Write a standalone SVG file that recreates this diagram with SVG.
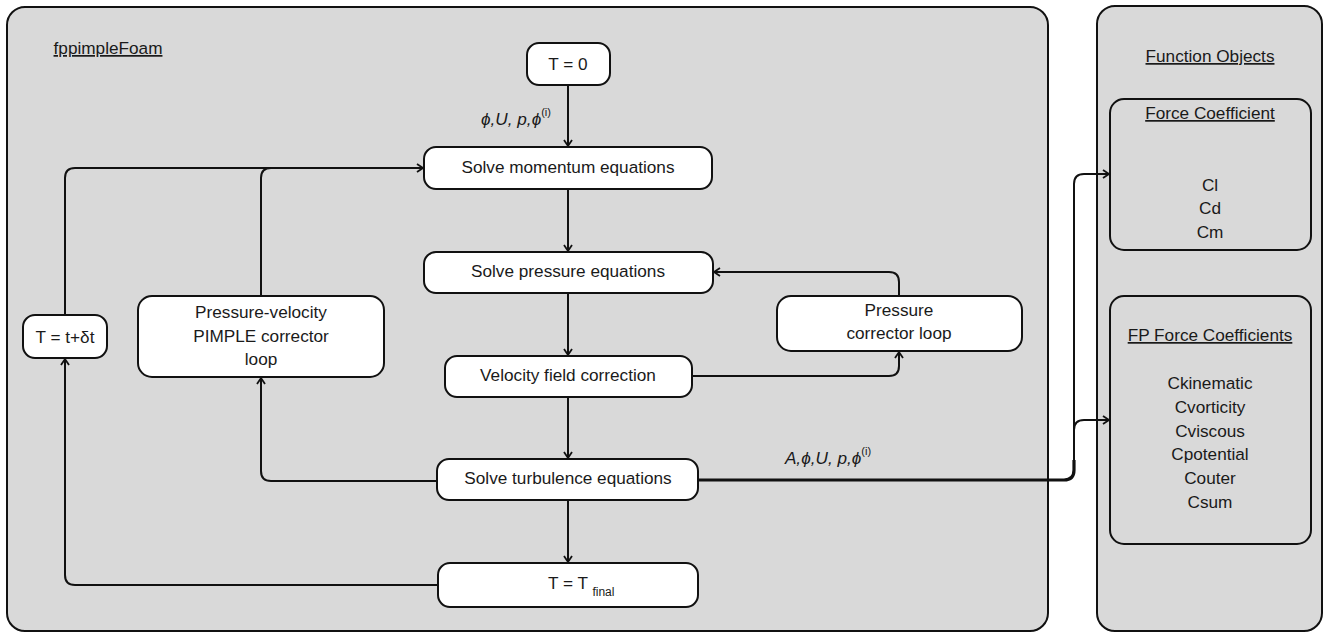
<svg xmlns="http://www.w3.org/2000/svg" width="1327" height="633" viewBox="0 0 1327 633">
<defs>
<marker id="arr" markerUnits="userSpaceOnUse" markerWidth="12" markerHeight="12" refX="9" refY="6" orient="auto">
<path d="M3,2 L9,6 L3,10" fill="none" stroke="#111" stroke-width="1.8" stroke-linejoin="miter"/>
</marker>
</defs>
<style>
.panel{fill:#d9d9d9;stroke:#111;stroke-width:2}
.box{fill:#fff;stroke:#111;stroke-width:2}
.sub{fill:none;stroke:#111;stroke-width:2}
text{font-family:"Liberation Sans",Arial,sans-serif;font-size:17.2px;fill:#1a1a1a;text-anchor:middle}
.u{text-decoration:underline}
.it{font-style:italic}
.sup{font-style:normal;font-size:11px}
.c{fill:none;stroke:#111;stroke-width:2}
.thick{fill:none;stroke:#111;stroke-width:3.2}
</style>
<g id="panel-main">
<rect class="panel" x="7" y="7" width="1041" height="624" rx="18"/>
<text class="u" x="108" y="54">fppimpleFoam</text>
</g>
<g id="panel-fo">
<rect class="panel" x="1097" y="6" width="225" height="625" rx="18"/>
<text class="u" x="1210" y="62">Function Objects</text>
</g>
<g id="fc">
<rect class="sub" x="1110" y="99" width="201" height="151" rx="14"/>
<text class="u" x="1210" y="119">Force Coefficient</text>
<text x="1210" y="191">Cl</text>
<text x="1210" y="214">Cd</text>
<text x="1210" y="238">Cm</text>
</g>
<g id="fpfc">
<rect class="sub" x="1110" y="296" width="201" height="248" rx="14"/>
<text class="u" x="1210" y="341">FP Force Coefficients</text>
<text x="1210" y="389">Ckinematic</text>
<text x="1210" y="413">Cvorticity</text>
<text x="1210" y="437">Cviscous</text>
<text x="1210" y="460">Cpotential</text>
<text x="1210" y="484">Couter</text>
<text x="1210" y="508">Csum</text>
</g>
<g id="connectors">
<path class="c" d="M568,85 V146" marker-end="url(#arr)"/>
<path class="c" d="M568,189 V251" marker-end="url(#arr)"/>
<path class="c" d="M568,293 V355" marker-end="url(#arr)"/>
<path class="c" d="M568,397 V458" marker-end="url(#arr)"/>
<path class="c" d="M568,500 V562" marker-end="url(#arr)"/>
<path class="c" d="M65,315 V178 Q65,168 75,168 H423" marker-end="url(#arr)"/>
<path class="c" d="M261,296 V178 Q261,168 271,168 H300"/>
<path class="c" d="M437,481 H271 Q261,481 261,471 V378" marker-end="url(#arr)"/>
<path class="c" d="M438,585 H75 Q65,585 65,575 V359" marker-end="url(#arr)"/>
<path class="c" d="M899,296 V282 Q899,272 889,272 H714" marker-end="url(#arr)"/>
<path class="c" d="M692,376 H889 Q899,376 899,366 V352" marker-end="url(#arr)"/>
<path class="thick" d="M698,480 H1064 Q1074,480 1074,470 V460"/>
<path class="c" d="M1074,462 V430 Q1074,420 1084,420 H1109" marker-end="url(#arr)"/>
<path class="c" d="M1074,432 V184 Q1074,174 1084,174 H1109" marker-end="url(#arr)"/>
<text class="it" x="516" y="125">ϕ,U, p,ϕ<tspan class="sup" dy="-9">(i)</tspan></text>
<text class="it" x="828" y="464">A,ϕ,U, p,ϕ<tspan class="sup" dy="-9">(i)</tspan></text>
</g>
<g id="t0">
<rect class="box" x="527" y="43" width="83" height="42" rx="12"/>
<text x="568" y="70">T = 0</text>
</g>
<g id="momentum">
<rect class="box" x="424" y="147" width="288" height="42" rx="12"/>
<text x="568" y="173">Solve momentum equations</text>
</g>
<g id="pressure">
<rect class="box" x="424" y="252" width="289" height="41" rx="12"/>
<text x="568" y="277">Solve pressure equations</text>
</g>
<g id="velocity">
<rect class="box" x="445" y="356" width="247" height="41" rx="12"/>
<text x="568" y="381">Velocity field correction</text>
</g>
<g id="turbulence">
<rect class="box" x="437" y="459" width="261" height="41" rx="12"/>
<text x="568" y="484">Solve turbulence equations</text>
</g>
<g id="tfinal">
<rect class="box" x="438" y="563" width="260" height="44" rx="12"/>
<text x="548" y="589" style="text-anchor:start">T = T <tspan font-size="12" dy="7">final</tspan></text>
</g>
<g id="pimple">
<rect class="box" x="138" y="296" width="246" height="81" rx="14"/>
<text x="261" y="318">Pressure-velocity</text>
<text x="261" y="342">PIMPLE corrector</text>
<text x="261" y="365">loop</text>
</g>
<g id="tnext">
<rect class="box" x="23" y="315" width="84" height="43" rx="12"/>
<text x="65" y="343">T = t+δt</text>
</g>
<g id="pcorr">
<rect class="box" x="777" y="296" width="245" height="55" rx="14"/>
<text x="899" y="316">Pressure</text>
<text x="899" y="339">corrector loop</text>
</g>
</svg>
